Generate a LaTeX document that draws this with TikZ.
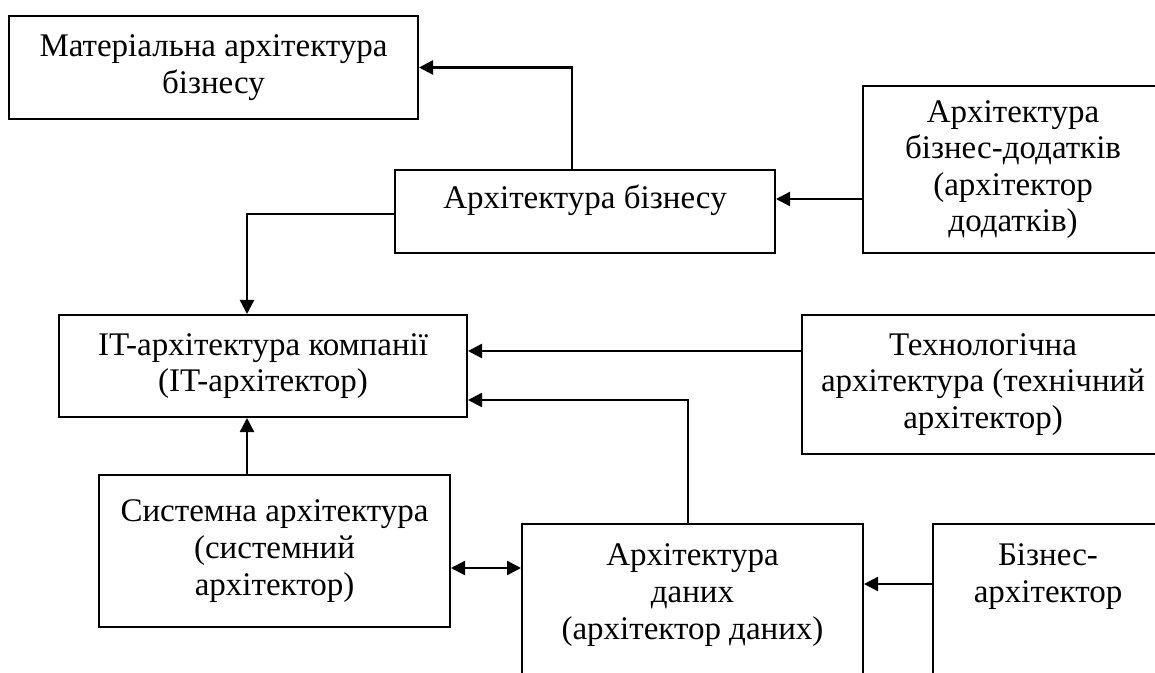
\documentclass[tikz,border=0pt]{standalone}
\usepackage{fontspec}
\setmainfont{Liberation Serif}
\usetikzlibrary{arrows.meta}

\begin{document}
\begin{tikzpicture}[x=0.5pt, y=-0.5pt,
  box/.style={draw, line width=1pt, align=center, inner sep=0pt,
    font=\fontsize{16.5}{18.3}\selectfont},
  arr/.style={-{Triangle[length=7pt,width=7pt]}, line width=1.2pt},
  arrtwo/.style={{Triangle[length=7pt,width=7pt]}-{Triangle[length=7pt,width=7pt]}, line width=1.2pt}]
  \useasboundingbox (0,0) rectangle (1155,673);
  \clip (0,0) rectangle (1155,673);

  % Business level
  \node[box, minimum width=204.5pt, minimum height=51.5pt] (mat) at (213.5,67.5) {Матеріальна архітектура\\бізнесу};
  \node[box, minimum width=190pt, minimum height=41.5pt, text depth=15pt] (busi) at (585,211.5) {Архітектура бізнесу};
  \node[box, minimum width=150pt, minimum height=83.5pt] (app) at (1013,169.5) {Архітектура\\бізнес-додатків\\(архітектор\\додатків)};

  % IT level
  \node[box, minimum width=204pt, minimum height=51pt] (itc) at (263,366) {IT-архітектура компанії\\(IT-архітектор)};
  \node[box, minimum width=181pt, minimum height=69.5pt] (tech) at (983,384.5) {Технологічна\\архітектура (технічний\\архітектор)};

  % Lower level
  \node[box, minimum width=175.5pt, minimum height=76pt] (sys) at (274.5,551) {Системна архітектура\\(системний\\архітектор)};
  \node[box, anchor=north, minimum width=170.5pt, inner ysep=10pt, text depth=100pt] (data) at (692.5,523) {Архітектура\\даних\\(архітектор даних)};
  \node[box, anchor=north, minimum width=115pt, inner ysep=10pt, text depth=100pt] (biz) at (1048,523) {Бізнес-\\архітектор};

  % Connectors
  \draw[arr] ([xshift=-6.5pt]busi.north) |- (mat.east);
  \draw[arr] (app.west |- 0,199) -- (busi.east |- 0,199);
  \draw[arr] (busi.west |- 0,214) -| (itc.north -| 247,0);
  \draw[arr] (tech.west |- 0,351) -- (itc.east |- 0,351);
  \draw[arr] (data.north -| 688,0) |- (itc.east |- 0,400);
  \draw[arr] (sys.north -| 247,0) -- (itc.south -| 247,0);
  \draw[arrtwo] (sys.east |- 0,568) -- (data.west |- 0,568);
  \draw[arr] (biz.west |- 0,584) -- (data.east |- 0,584);
\end{tikzpicture}
\end{document}
